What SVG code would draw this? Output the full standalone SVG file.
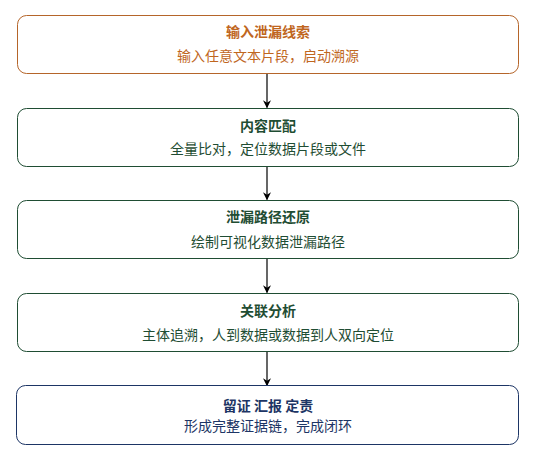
<svg xmlns="http://www.w3.org/2000/svg" width="536" height="462" viewBox="0 0 536 462">
<defs>
<marker id="arr" viewBox="0 0 10 10" refX="9" refY="5" markerWidth="8" markerHeight="8" markerUnits="userSpaceOnUse" orient="auto"><path d="M0,0 L10,5 L0,10 L3,5 z" fill="#000"/></marker>
<style>
text{font-family:"Noto Sans CJK SC","Noto Sans",sans-serif;font-size:14px;text-anchor:middle}
.t{font-weight:bold}
.box{fill:#fff;stroke-width:1}
.o rect{stroke:#b5652a}.o text{fill:#c0661e}
.g rect{stroke:#1f4d33}.g text{fill:#1f4d33}
.n rect{stroke:#1d3565}.n text{fill:#1d3565}
.c{stroke:#000;stroke-width:1.2;fill:none;marker-end:url(#arr)}
</style>
</defs>
<g id="connectors">
<line class="c" x1="267" y1="74" x2="267" y2="107.5"/>
<line class="c" x1="267" y1="166" x2="267" y2="199.5"/>
<line class="c" x1="267" y1="258" x2="267" y2="292.5"/>
<line class="c" x1="267" y1="351" x2="267" y2="385.5"/>
</g>
<g id="n1" class="o"><rect class="box" x="17.5" y="15.5" width="501" height="58" rx="9"/><text class="t" x="268" y="37">输入泄漏线索</text><text x="268" y="61">输入任意文本片段，启动溯源</text></g>
<g id="n2" class="g"><rect class="box" x="17.5" y="108.5" width="501" height="58" rx="9"/><text class="t" x="268" y="131">内容匹配</text><text x="268" y="154">全量比对，定位数据片段或文件</text></g>
<g id="n3" class="g"><rect class="box" x="17.5" y="200.5" width="501" height="58" rx="9"/><text class="t" x="268" y="222">泄漏路径还原</text><text x="268" y="247">绘制可视化数据泄漏路径</text></g>
<g id="n4" class="g"><rect class="box" x="17.5" y="293.5" width="501" height="58" rx="9"/><text class="t" x="268" y="316">关联分析</text><text x="268" y="340">主体追溯，人到数据或数据到人双向定位</text></g>
<g id="n5" class="n"><rect class="box" x="16.5" y="385.5" width="502" height="59" rx="9"/><text class="t" x="268" y="411">留证 汇报 定责</text><text x="268" y="431">形成完整证据链，完成闭环</text></g>
</svg>
